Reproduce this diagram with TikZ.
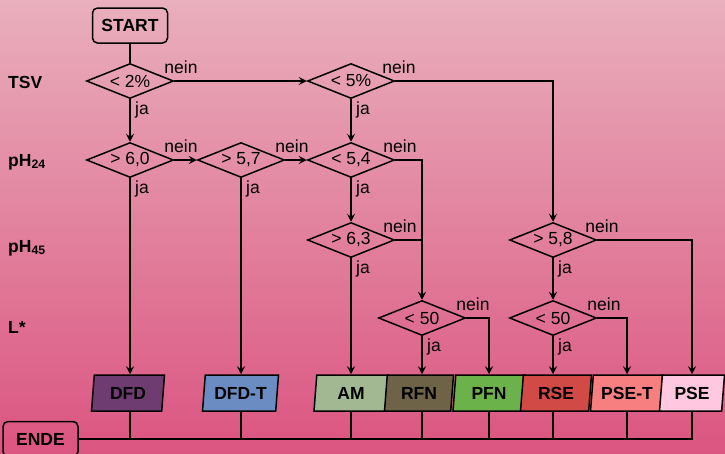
\documentclass[tikz,border=0pt]{standalone}
\usepackage{fontspec}
\setmainfont{Liberation Sans}
\usetikzlibrary{shapes.geometric,arrows.meta,calc}
\definecolor{bgtop}{HTML}{E9AFBC}
\definecolor{bgbot}{HTML}{DB5581}
\definecolor{cDFD}{HTML}{6E3C70}
\definecolor{cDFDT}{HTML}{6A8CC2}
\definecolor{cAM}{HTML}{A2B892}
\definecolor{cRFN}{HTML}{6E6347}
\definecolor{cPFN}{HTML}{6CB24A}
\definecolor{cRSE}{HTML}{D24A46}
\definecolor{cPSET}{HTML}{F87F80}
\definecolor{cPSE}{HTML}{FFC8E0}
\begin{document}
\begin{tikzpicture}[x=1pt,y=-1pt,
  every node/.style={font=\fontsize{17.5}{20}\selectfont},
  conn/.style={line width=1.5pt},
  arr/.style={conn,-{Stealth[length=8pt,width=8pt,inset=3pt]}},
  dec/.style={diamond, draw, line width=1.5pt, aspect=2.5, inner sep=0pt,
    minimum width=87pt, minimum height=35pt},
  term/.style={draw, rounded corners=5pt, line width=1.5pt,
    font=\bfseries\fontsize{17.5}{20}\selectfont,
    minimum width=75pt, minimum height=35pt, inner sep=0pt},
  outbox/.style={trapezium, trapezium left angle=77, trapezium right angle=103,
    trapezium stretches body, draw, line width=1.5pt, inner sep=0pt,
    minimum height=36pt, font=\bfseries\fontsize{17.5}{20}\selectfont},
  lab/.style={inner sep=0pt, anchor=base west},
  rowlab/.style={inner sep=0pt, anchor=base west,
    font=\bfseries\fontsize{17.5}{20}\selectfont}
]
\useasboundingbox (0,0) rectangle (725,453);
\shade[top color=bgtop, bottom color=bgbot] (0,0) rectangle (725,453);

% row labels
\node[rowlab] (tsv) at (8,88) {TSV};
\node[rowlab] (ph24) at (8,166) {pH\textsubscript{24}};
\node[rowlab] (ph45) at (8,252) {pH\textsubscript{45}};
\node[rowlab] (lstar) at (8,333) {L*};

% terminals
\node[term] (start) at (130,25.5) {START};
\node[term] (ende) at (40.5,439) {ENDE};

% decisions
\node[dec] (d1) at (130,81) {< 2\%};
\node[dec] (d2) at (351,81) {< 5\%};
\node[dec] (p1) at (130,160) {> 6,0};
\node[dec] (p2) at (241,160) {> 5,7};
\node[dec] (p3) at (351,160) {< 5,4};
\node[dec] (q1) at (351,240) {> 6,3};
\node[dec] (q2) at (553,240) {> 5,8};
\node[dec] (l1) at (422,318) {< 50};
\node[dec] (l2) at (553,318) {< 50};

% outcomes
\node[outbox, fill=cDFD, minimum width=73pt] (dfd) at (128,393) {DFD};
\node[outbox, fill=cDFDT, minimum width=76pt] (dfdt) at (240.5,393) {DFD-T};
\node[outbox, fill=cAM, minimum width=74pt] (am) at (351,393) {AM};
\node[outbox, fill=cRFN, minimum width=69pt] (rfn) at (419,393) {RFN};
\node[outbox, fill=cPFN, minimum width=72pt] (pfn) at (489,393) {PFN};
\node[outbox, fill=cRSE, minimum width=71pt] (rse) at (556,393) {RSE};
\node[outbox, fill=cPSET, minimum width=73pt] (pset) at (627,393) {PSE-T};
\node[outbox, fill=cPSE, minimum width=65pt] (pse) at (692,393) {PSE};

% connectors
\draw[conn] (start) -- (d1);
\draw[arr] (d1) -- (p1);
\draw[arr] (d1) -- (d2);
\draw[arr] (d2.east) -| (q2.north);
\draw[arr] (d2) -- (p3);
\draw[arr] (p1) -- (p2);
\draw[arr] (p2) -- (p3);
\draw[arr] (p1.south) -- (p1.south |- dfd.north);
\draw[arr] (p2.south) -- (p2.south |- dfdt.north);
\draw[arr] (p3) -- (q1);
\draw[arr] (p3.east) -| (l1.north);
\draw[conn] (q1.east) -- (q1.east -| l1.north);
\draw[arr] (q1.south) -- (q1.south |- am.north);
\draw[arr] (l1.south) -- (l1.south |- rfn.north);
\draw[arr] (l1.east) -| (pfn.north);
\draw[arr] (q2) -- (l2);
\draw[arr] (q2.east) -| (pse.north);
\draw[arr] (l2.south) -- (l2.south |- rse.north);
\draw[arr] (l2.east) -| (pset.north);

% to ENDE
\draw[conn] (ende.east) -| (pse.south);
\draw[conn] (p1.south |- dfd.south) -- (p1.south |- ende.east);
\draw[conn] (p2.south |- dfdt.south) -- (p2.south |- ende.east);
\draw[conn] (q1.south |- am.south) -- (q1.south |- ende.east);
\draw[conn] (l1.south |- rfn.south) -- (l1.south |- ende.east);
\draw[conn] (pfn.south) -- (pfn.south |- ende.east);
\draw[conn] (l2.south |- rse.south) -- (l2.south |- ende.east);
\draw[conn] (pset.south) -- (pset.south |- ende.east);

% nein labels
\node[lab] (n1) at ($(d1.east)+(-10,-8)$) {nein};
\node[lab] (n2) at ($(d2.east)+(-13,-8)$) {nein};
\node[lab] (n3) at ($(p1.east)+(-10,-8)$) {nein};
\node[lab] (n4) at ($(p2.east)+(-10,-8)$) {nein};
\node[lab] (n5) at ($(p3.east)+(-12,-8)$) {nein};
\node[lab] (n6) at ($(q1.east)+(-12,-8)$) {nein};
\node[lab] (n7) at ($(q2.east)+(-12,-8)$) {nein};
\node[lab] (n8) at ($(l1.east)+(-10,-8)$) {nein};
\node[lab] (n9) at ($(l2.east)+(-10,-8)$) {nein};

% ja labels
\node[lab] (j1) at ($(d1.south)+(5,15)$) {ja};
\node[lab] (j2) at ($(d2.south)+(5,15)$) {ja};
\node[lab] (j3) at ($(p1.south)+(5,15)$) {ja};
\node[lab] (j4) at ($(p2.south)+(5,15)$) {ja};
\node[lab] (j5) at ($(p3.south)+(5,15)$) {ja};
\node[lab] (j6) at ($(q1.south)+(5,15)$) {ja};
\node[lab] (j7) at ($(q2.south)+(5,15)$) {ja};
\node[lab] (j8) at ($(l1.south)+(5,15)$) {ja};
\node[lab] (j9) at ($(l2.south)+(5,15)$) {ja};
\end{tikzpicture}
\end{document}
